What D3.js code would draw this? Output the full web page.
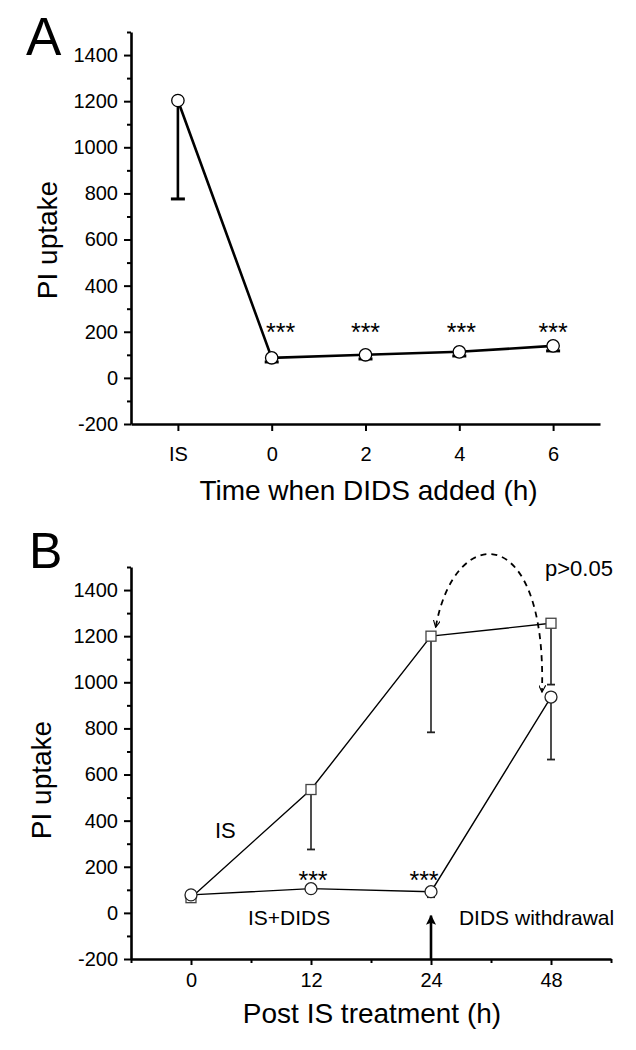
<!DOCTYPE html>
<html>
<head>
<meta charset="utf-8">
<script src="https://cdn.jsdelivr.net/npm/d3@7"></script>
<style>
  html, body { margin: 0; padding: 0; background: #fff; }
  svg { display: block; }
  text { font-family: "Liberation Sans", Arial, Helvetica, sans-serif; fill: #000; }
</style>
</head>
<body>
<svg id="chart" width="636" height="1050"></svg>
<script>
// ---------------- Data ----------------
// Panel A
const catsA = ["IS", "0", "2", "4", "6"];
const meanA = [1203, 87, 100, 113, 139];
const lowA  = [776, 69, 82, 95, 117];
const starsA = ["", "***", "***", "***", "***"];

// Panel B
const catsB = ["0", "12", "24", "48"];
const meanIS   = [66, 535, 1200, 1256];
const lowIS    = [52, 275, 783, 990];
const meanDIDS = [78, 105, 92, 936];
const lowDIDS  = [60, 100, 68, 665];
const starsB   = ["", "***", "***", ""];

const yTicks = [-200, 0, 200, 400, 600, 800, 1000, 1200, 1400];
const yMinor = [-100, 100, 300, 500, 700, 900, 1100, 1300, 1500];

const yTitle = "PI uptake";
const xTitleA = "Time when DIDS added (h)";
const xTitleB = "Post IS treatment (h)";

// ---------------- Drawing ----------------
const svg = d3.select("#chart");

function yAxisDraw(g, y, x0) {
  const ax = g.append("g").attr("transform", `translate(${x0},0)`)
    .call(d3.axisLeft(y).tickValues(yTicks).tickSize(7).tickSizeOuter(0).tickPadding(6).tickFormat(d => String(d)));
  ax.select(".domain").attr("stroke-width", 2.6);
  ax.selectAll(".tick line").attr("stroke-width", 2);
  ax.selectAll(".tick text").attr("font-size", 20).style("font-family", '"Liberation Sans", Arial, sans-serif');
  const mn = g.append("g").attr("transform", `translate(${x0},0)`)
    .call(d3.axisLeft(y).tickValues(yMinor).tickSize(4).tickSizeOuter(0).tickFormat(""));
  mn.select(".domain").remove();
  mn.selectAll(".tick line").attr("stroke-width", 2);
}

// ===== Panel A =====
const xA = d3.scaleLinear().domain([-0.5, 4.5]).range([131, 600]);
const yA = d3.scaleLinear().domain([-200, 1500]).range([424, 32]);
const gA = svg.append("g");

yAxisDraw(gA, yA, 131);
const axA = gA.append("g").attr("transform", `translate(0,${yA(-200)})`)
  .call(d3.axisBottom(xA).tickValues(d3.range(catsA.length)).tickSize(7).tickSizeOuter(0).tickPadding(16)
    .tickFormat(i => catsA[i]));
axA.select(".domain").attr("stroke-width", 2.6);
axA.selectAll(".tick line").attr("stroke-width", 2);
axA.selectAll(".tick text").attr("font-size", 20);

// line
gA.append("path")
  .datum(meanA)
  .attr("fill", "none").attr("stroke", "#000").attr("stroke-width", 2.6)
  .attr("d", d3.line().x((d, i) => xA(i)).y(d => yA(d)));

// error bars (lower)
meanA.forEach((m, i) => {
  gA.append("line").attr("x1", xA(i)).attr("x2", xA(i)).attr("y1", yA(m)).attr("y2", yA(lowA[i]))
    .attr("stroke", "#000").attr("stroke-width", 2.6);
  gA.append("line").attr("x1", xA(i) - 7).attr("x2", xA(i) + 7).attr("y1", yA(lowA[i])).attr("y2", yA(lowA[i]))
    .attr("stroke", "#000").attr("stroke-width", 3);
});
// markers
gA.selectAll("circle.ma").data(meanA).join("circle")
  .attr("cx", (d, i) => xA(i)).attr("cy", d => yA(d)).attr("r", 6.2)
  .attr("fill", "#fff").attr("stroke", "#000").attr("stroke-width", 1.3);

// stars
const starDxA = [0, 9, 0, 2, 0];
gA.selectAll("text.sa").data(starsA).join("text")
  .attr("x", (d, i) => xA(i) + starDxA[i]).attr("y", yA(162))
  .attr("text-anchor", "middle").attr("font-size", 25).text(d => d);

// labels
gA.append("text").attr("x", 26).attr("y", 55).attr("font-size", 53).text("A");
gA.append("text").attr("transform", `translate(57,${(yA(-200) + yA(1500)) / 2 + 12}) rotate(-90)`)
  .attr("text-anchor", "middle").attr("font-size", 28).text(yTitle);
gA.append("text").attr("x", (xA.range()[0] + xA.range()[1]) / 2 + 3).attr("y", 500)
  .attr("text-anchor", "middle").attr("font-size", 28).text(xTitleA);

// ===== Panel B =====
const xB = d3.scaleLinear().domain([-0.5, 3.5]).range([131, 611]);
const yB = d3.scaleLinear().domain([-200, 1500]).range([959, 567]);
const gB = svg.append("g");

yAxisDraw(gB, yB, 131);
const axB = gB.append("g").attr("transform", `translate(0,${yB(-200)})`)
  .call(d3.axisBottom(xB).tickValues(d3.range(catsB.length)).tickSize(6).tickSizeOuter(0).tickPadding(8)
    .tickFormat(i => catsB[i]));
axB.select(".domain").attr("stroke-width", 2.6);
axB.selectAll(".tick line").attr("stroke-width", 2);
axB.selectAll(".tick text").attr("font-size", 20);
const axBm = gB.append("g").attr("transform", `translate(0,${yB(-200)})`)
  .call(d3.axisBottom(xB).tickValues([-0.5, 0.5, 1.5, 2.5, 3.5]).tickSize(4).tickSizeOuter(0).tickFormat(""));
axBm.select(".domain").remove();
axBm.selectAll(".tick line").attr("stroke-width", 2);

const lineB = d3.line().x((d, i) => xB(i)).y(d => yB(d));

// lines
gB.append("path").datum(meanIS).attr("fill", "none").attr("stroke", "#000").attr("stroke-width", 1.4).attr("d", lineB);
gB.append("path").datum(meanDIDS).attr("fill", "none").attr("stroke", "#000").attr("stroke-width", 1.4).attr("d", lineB);

function errB(means, lows) {
  means.forEach((m, i) => {
    gB.append("line").attr("x1", xB(i)).attr("x2", xB(i)).attr("y1", yB(m)).attr("y2", yB(lows[i]))
      .attr("stroke", "#222").attr("stroke-width", 1.6);
    gB.append("line").attr("x1", xB(i) - 4).attr("x2", xB(i) + 4).attr("y1", yB(lows[i])).attr("y2", yB(lows[i]))
      .attr("stroke", "#222").attr("stroke-width", 1.8);
  });
}
errB(meanIS, lowIS);
errB(meanDIDS, lowDIDS);

// markers
gB.selectAll("rect.sq").data(meanIS).join("rect")
  .attr("x", (d, i) => xB(i) - 5).attr("y", d => yB(d) - 5).attr("width", 10).attr("height", 10)
  .attr("fill", "#fff").attr("stroke", "#444").attr("stroke-width", 1.3);
gB.selectAll("circle.cb").data(meanDIDS).join("circle")
  .attr("cx", (d, i) => xB(i)).attr("cy", d => yB(d)).attr("r", 6)
  .attr("fill", "#fff").attr("stroke", "#222").attr("stroke-width", 1.3);

// stars
const starDxB = [0, 2, -7, 0];
gB.selectAll("text.sb").data(starsB).join("text")
  .attr("x", (d, i) => xB(i) + starDxB[i]).attr("y", yB(105))
  .attr("text-anchor", "middle").attr("font-size", 25).text(d => d);

// annotations
gB.append("text").attr("x", 29).attr("y", 568).attr("font-size", 50).text("B");
gB.append("text").attr("transform", `translate(51,${(yB(-200) + yB(1500)) / 2 + 17}) rotate(-90)`)
  .attr("text-anchor", "middle").attr("font-size", 28).text(yTitle);
gB.append("text").attr("x", (xB.range()[0] + xB.range()[1]) / 2 + 1).attr("y", 1023)
  .attr("text-anchor", "middle").attr("font-size", 28).text(xTitleB);

gB.append("text").attr("x", xB(0.2)).attr("y", yB(325)).attr("font-size", 22).text("IS");
gB.append("text").attr("x", xB(0.475)).attr("y", yB(-52)).attr("font-size", 21).text("IS+DIDS");
gB.append("text").attr("x", xB(2.233)).attr("y", yB(-52)).attr("font-size", 21).text("DIDS withdrawal");
gB.append("text").attr("x", xB(2.95)).attr("y", yB(1462)).attr("font-size", 22).text("p>0.05");

// arrow at 24 h (DIDS withdrawal)
const defs = svg.append("defs");
defs.append("marker").attr("id", "solidHead").attr("viewBox", "0 0 10 10").attr("refX", 9).attr("refY", 5)
  .attr("markerWidth", 10).attr("markerHeight", 16).attr("markerUnits", "userSpaceOnUse").attr("orient", "auto")
  .append("path").attr("d", "M0,0 L10,5 L0,10 L2,5 Z").attr("fill", "#000");
defs.append("marker").attr("id", "openHead").attr("viewBox", "0 0 10 10").attr("refX", 9).attr("refY", 5)
  .attr("markerWidth", 8).attr("markerHeight", 7).attr("markerUnits", "userSpaceOnUse").attr("orient", "auto-start-reverse")
  .append("path").attr("d", "M0,0 L10,5 L0,10").attr("fill", "none").attr("stroke", "#000").attr("stroke-width", 1.6);

gB.append("line").attr("x1", xB(2)).attr("x2", xB(2)).attr("y1", yB(-200)).attr("y2", yB(-12))
  .attr("stroke", "#000").attr("stroke-width", 2.6).attr("marker-end", "url(#solidHead)");

// dashed curved arrow between IS (24 h) and DIDS withdrawal (48 h)
const p0 = [xB(2.04), yB(1241)], c1 = [xB(2.2), yB(1700)], c2 = [xB(2.967), yB(1700)], p1 = [xB(2.925), yB(960)];
const cpath = d3.path();
cpath.moveTo(...p0);
cpath.bezierCurveTo(...c1, ...c2, ...p1);
gB.append("path").attr("d", cpath.toString()).attr("fill", "none").attr("stroke", "#000")
  .attr("stroke-width", 1.8).attr("stroke-dasharray", "6,5")
  .attr("marker-start", "url(#openHead)").attr("marker-end", "url(#openHead)");
</script>
</body>
</html>
